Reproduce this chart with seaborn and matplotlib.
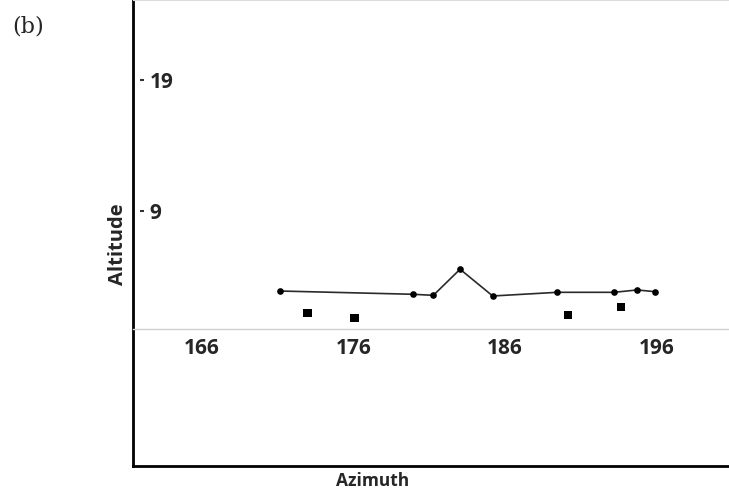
import matplotlib
matplotlib.use("Agg")
import matplotlib.pyplot as plt
import matplotlib.transforms as mtransforms
import numpy as np
import pandas as pd
import seaborn as sns

# Track of the object: azimuth vs altitude (connected points)
track_azimuth = [171.15, 179.93, 181.28, 183.04, 185.19, 189.44, 193.19, 194.70, 195.87]
track_altitude = [2.90, 2.65, 2.57, 4.56, 2.52, 2.80, 2.80, 2.98, 2.85]

# Separate sightings (square markers)
obs_azimuth = [172.99, 176.09, 190.16, 193.63]
obs_altitude = [1.22, 0.86, 1.09, 1.70]

x_ticks = [166, 176, 186, 196]
y_ticks = [9, 19]

sns.set_style("white")
plt.rcParams["font.family"] = ["Open Sans", "DejaVu Sans"]

fig = plt.figure(figsize=(7.29, 4.94), dpi=100)
ax = fig.add_axes([133 / 729, 28 / 494, 1 - 133 / 729, 466 / 494])

track = pd.DataFrame({"Azimuth": track_azimuth, "Altitude": track_altitude})
obs = pd.DataFrame({"Azimuth": obs_azimuth, "Altitude": obs_altitude})

sns.lineplot(data=track, x="Azimuth", y="Altitude", ax=ax, color="#2a2a2a",
             linewidth=1.2, marker="o", markersize=4.8, markeredgewidth=0,
             markerfacecolor="black", sort=False)
sns.scatterplot(data=obs, x="Azimuth", y="Altitude", ax=ax, marker="s",
                s=36, color="black", edgecolor="none")

ax.set_xlim(161.5, 200.75)
ax.set_ylim(-10.45, 25.1)

# Frame: black left and bottom edges, faint top edge, x axis through zero
ax.spines["left"].set_color("black")
ax.spines["left"].set_linewidth(2.0)
ax.spines["right"].set_visible(False)
ax.spines["top"].set_color("#dddddd")
ax.spines["top"].set_linewidth(0.8)
ax.spines["bottom"].set_position(("data", 0))
ax.spines["bottom"].set_color("#d0d0d0")
ax.spines["bottom"].set_linewidth(1.0)
ax.plot([0, 1], [0, 0], transform=ax.transAxes, color="black", lw=2.0,
        clip_on=False, solid_capstyle="projecting")

ax.set_xticks(x_ticks)
ax.set_xticklabels([str(v) for v in x_ticks])
ax.tick_params(axis="x", direction="out", length=3, width=0.8, color="#c8c8c8",
               pad=3.5, labelsize=15)

ax.set_yticks(y_ticks)
ax.set_yticklabels([str(v) for v in y_ticks])
ax.tick_params(axis="y", length=0, pad=-12.0, labelsize=15)
for lbl in ax.get_yticklabels():
    lbl.set_horizontalalignment("left")
    lbl.set_fontweight("bold")
for lbl in ax.get_xticklabels():
    lbl.set_fontweight("bold")

# small dash marks in front of the y tick labels
blend = mtransforms.blended_transform_factory(ax.transAxes, ax.transData)
ax.plot([0.0155] * len(y_ticks), y_ticks, transform=blend, linestyle="none",
        marker="_", markersize=3, markeredgewidth=1.5, color="#333333", clip_on=False)

ax.set_xlabel("Azimuth", fontsize=12.5, fontweight="bold", va="center")
ax.set_ylabel("Altitude", fontsize=14.5, fontweight="bold", va="center")
ax.xaxis.set_label_coords((373 - 133) / (729 - 133), -(481 - 466) / 466)
ax.yaxis.set_label_coords(-(133 - 118) / (729 - 133), (466 - 244) / 466)

fig.text(12 / 729, 1 - 26 / 494, "(b)", fontsize=16, va="center", ha="left",
         family=["DejaVu Serif"])

fig.savefig("out.png", dpi=100)
